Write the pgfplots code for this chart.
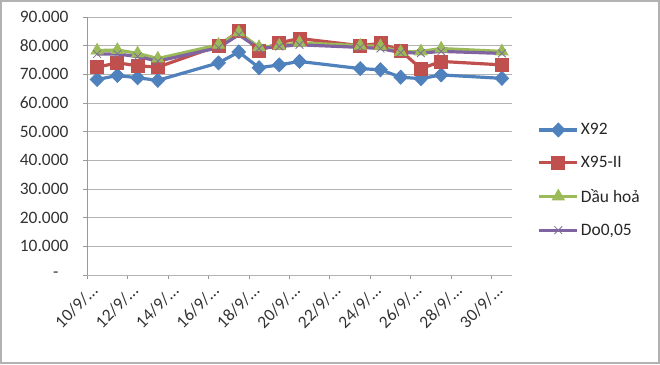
\documentclass[border=0pt]{standalone}
\usepackage{pgfplots}
\pgfplotsset{compat=1.18}
\usepackage{fontspec}
\setmainfont{Carlito}
\definecolor{cBlue}{HTML}{4F81BD}
\definecolor{cRed}{HTML}{C0504D}
\definecolor{cGreen}{HTML}{9BBB59}
\definecolor{cPurple}{HTML}{8064A2}
\begin{document}
\begin{tikzpicture}[x=1bp,y=1bp]
\path[use as bounding box] (-87,-89) rectangle (573,275);
\draw[gray!60, line width=1.2bp] (-86,-88) rectangle (572,274);
\begin{axis}[
  at={(0,0)}, anchor=south west,
  scale only axis, width=425bp, height=258bp,
  xmin=9.5, xmax=30.5, ymin=0, ymax=90,
  axis x line*=bottom, axis y line*=left,
  axis line style={draw=gray!80, line width=0.8bp, -},
  xtick={9.5,11.5,...,29.5},
  xticklabels={10/9/…,12/9/…,14/9/…,16/9/…,18/9/…,20/9/…,22/9/…,24/9/…,26/9/…,28/9/…,30/9/…},
  ytick={10,20,...,90},
  yticklabels={10.000,20.000,30.000,40.000,50.000,60.000,70.000,80.000,90.000},
  extra y ticks={0}, extra y tick labels={-},
  extra y tick style={tick label style={xshift=-10bp}},
  tick align=outside, major tick length=4bp,
  tick style={draw=gray!80, line width=0.8bp},
  ymajorgrids, grid style={draw=gray!60, line width=0.8bp},
  /pgf/number format/assume math mode=true,
  tick label style={font=\fontsize{17.5}{21}\selectfont, text=black!80},
  x tick label style={anchor=north east, xshift=3bp, yshift=-3bp, rotate=45, inner sep=1bp},
  yticklabel style={xshift=-11bp},
  legend style={at={(1.06,0.368)}, anchor=west, draw=none, fill=none,
    font=\fontsize{17.5}{21}\selectfont, row sep=16bp, inner sep=0pt,
    text=black!85},
  legend cell align=left,
  legend image code/.code={\draw[mark repeat=2,mark phase=2,#1] plot coordinates {(0bp,0bp) (19bp,0bp) (38bp,0bp)};},
  every axis plot/.append style={line width=3.2bp},
]
\addplot[cBlue, mark=diamond*, mark size=7bp, mark options={xscale=1.3, line width=0.8bp, fill=cBlue}] coordinates {
(10,68.2) (11,69.6) (12,68.8) (13,67.9) (16,74.0) (17,77.8) (18,72.3) (19,73.3) (20,74.5) (23,72.0) (24,71.6) (25,69.0) (26,68.5) (27,69.8) (30,68.6)};
\addlegendentry{X92}
\addplot[cRed, mark=square*, mark size=6.5bp, mark options={line width=0.8bp, fill=cRed}] coordinates {
(10,72.5) (11,74.0) (12,73.0) (13,72.5) (16,80.0) (17,85.0) (18,78.2) (19,81.0) (20,82.5) (23,80.0) (24,80.8) (25,78.2) (26,72.0) (27,74.5) (30,73.3)};
\addlegendentry{X95-II}
\addplot[cGreen, mark=triangle*, mark size=7bp, mark options={line width=0.8bp, fill=cGreen}] coordinates {
(10,78.3) (11,78.5) (12,77.3) (13,75.5) (16,80.3) (17,84.6) (18,79.5) (19,80.0) (20,81.0) (23,80.0) (24,79.8) (25,77.8) (26,78.0) (27,79.0) (30,78.0)};
\addlegendentry{Dầu hoả}
\addplot[cPurple, mark=x, mark size=5.5bp, mark options={line width=0.8bp, draw=cPurple!60!gray}] coordinates {
(10,77.1) (11,77.1) (12,76.2) (13,74.6) (16,79.3) (17,83.8) (18,79.0) (19,79.7) (20,80.3) (23,79.4) (24,79.0) (25,77.6) (26,77.4) (27,78.0) (30,77.3)};
\addlegendentry{Do0,05}
\end{axis}
\end{tikzpicture}
\end{document}
